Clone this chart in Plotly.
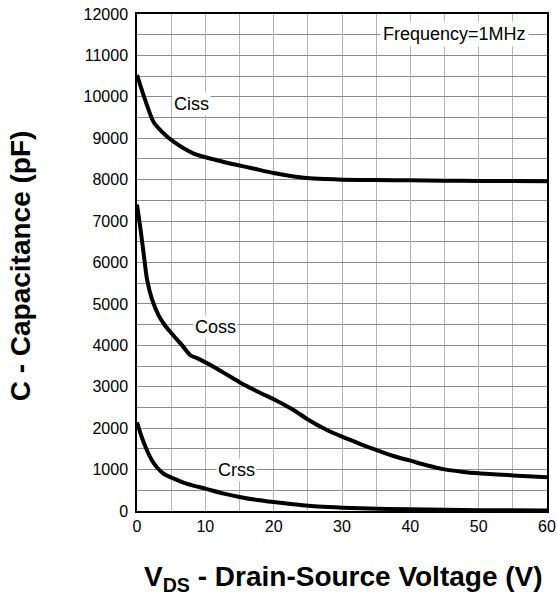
import plotly.graph_objects as go

# Capacitance vs drain-source voltage (pF), Frequency = 1 MHz
vds_ciss = [0, 1.2, 2.4, 3.7, 5.4, 8.3, 11.7, 14.5, 17, 20, 22.5, 24.9, 27.5, 30, 35, 40, 45, 50, 55, 60]
ciss = [10530, 9920, 9400, 9150, 8910, 8630, 8470, 8360, 8270, 8160, 8090, 8040, 8015, 8000, 7990, 7985, 7975, 7970, 7965, 7960]

vds_coss = [0, 0.5, 1.0, 1.46, 2.2, 3.2, 4.1, 5.1, 6.6, 7.8, 8.8, 11.7, 15, 18, 20, 22.9, 25, 27.8, 30, 32.7, 35, 37.5, 40, 42.5, 45, 47.5, 50, 55, 60]
coss = [7400, 6820, 6180, 5600, 5110, 4710, 4480, 4280, 4000, 3760, 3690, 3435, 3110, 2856, 2700, 2440, 2210, 1955, 1795, 1617, 1473, 1328, 1215, 1100, 1005, 950, 910, 860, 815]

vds_crss = [0, 0.7, 1.5, 2.2, 2.9, 3.9, 5.4, 6.8, 8.1, 10, 12.7, 15, 17.6, 20, 22.5, 25, 28, 32.7, 40, 50, 60]
crss = [2140, 1780, 1450, 1220, 1055, 900, 780, 685, 620, 540, 420, 340, 265, 215, 170, 128, 95, 65, 40, 20, 10]

curve_labels = ["Ciss", "Coss", "Crss"]
label_x = [7.95, 11.46, 14.5]
label_y = [9826, 4442, 1002]

font_family = "Liberation Sans, Arial, sans-serif"

fig = go.Figure()
for xs, ys, name in [(vds_ciss, ciss, "Ciss"), (vds_coss, coss, "Coss"), (vds_crss, crss, "Crss")]:
    fig.add_trace(go.Scatter(
        x=xs, y=ys, mode="lines", name=name,
        line=dict(color="black", width=4, shape="spline", smoothing=0.75),
        showlegend=False,
    ))

fig.update_xaxes(
    range=[0, 60], tick0=0, dtick=10,
    showgrid=True, gridcolor="#b4b4b4", gridwidth=1,
    minor=dict(dtick=5, showgrid=True, gridcolor="#b4b4b4", gridwidth=1),
    showline=True, linecolor="black", linewidth=1.5, mirror=True,
    ticks="", zeroline=False, automargin=False,
    tickfont=dict(family=font_family, size=16, color="black"),
)
fig.update_yaxes(
    range=[0, 12000], tick0=0, dtick=1000, tickformat="d",
    showgrid=True, gridcolor="#8c8c8c", gridwidth=1,
    minor=dict(dtick=500, showgrid=True, gridcolor="#8c8c8c", gridwidth=1),
    showline=True, linecolor="black", linewidth=1.5, mirror=True,
    ticks="", zeroline=False, automargin=False, ticklabelstandoff=4,
    tickfont=dict(family=font_family, size=16, color="black"),
)

# curve names on white patches
for name, x, y in zip(curve_labels, label_x, label_y):
    fig.add_annotation(x=x, y=y, text=name, showarrow=False,
                       font=dict(family=font_family, size=18, color="black"),
                       bgcolor="white", borderpad=1)

fig.add_annotation(x=46.4, y=11516, text="Frequency=1MHz", showarrow=False,
                   font=dict(family=font_family, size=18, color="black"),
                   bgcolor="white", borderpad=2)

# axis titles
title_font = dict(family=font_family, size=28, color="black", weight="bold")
fig.add_annotation(xref="paper", yref="paper", x=0.504, y=-0.135,
                   xanchor="center", yanchor="middle", showarrow=False,
                   text="V<sub>DS</sub> - Drain-Source Voltage (V)", font=title_font)
fig.add_annotation(xref="paper", yref="paper", x=-0.282, y=0.493,
                   xanchor="center", yanchor="middle", showarrow=False,
                   textangle=-90, text="C - Capacitance (pF)", font=title_font)

fig.update_layout(
    width=557, height=595,
    margin=dict(l=137, r=10, t=14, b=84),
    plot_bgcolor="white", paper_bgcolor="white",
)

fig.write_html("out.html")
